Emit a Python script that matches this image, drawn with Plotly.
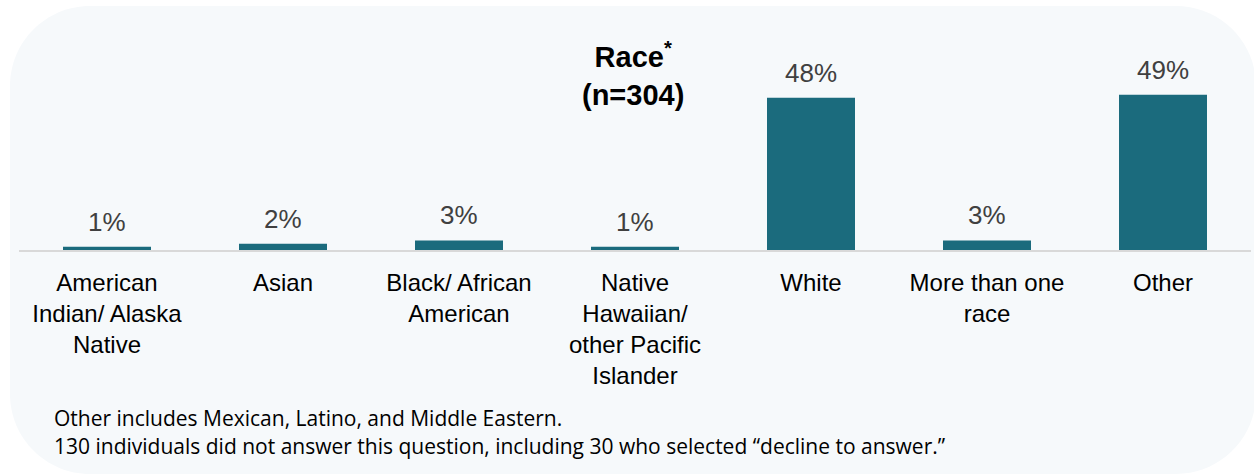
import plotly.graph_objects as go

categories = ["American<br>Indian/ Alaska<br>Native", "Asian", "Black/ African<br>American",
              "Native<br>Hawaiian/<br>other Pacific<br>Islander", "White", "More than one<br>race", "Other"]
values = [1, 2, 3, 1, 48, 3, 49]
value_labels = [f"{v}%" for v in values]
title_text = "<b>Race<sup>*</sup><br>(n=304)</b>"
footnotes = ["Other includes Mexican, Latino, and Middle Eastern.",
             "130 individuals did not answer this question, including 30 who selected \u201cdecline to answer.\u201d"]

W, H = 1254, 475
ML, MR, MT, MB = 19, 3, 40, 225
PW, PH = W - ML - MR, H - MT - MB
PX_PER = 3.17
YMAX = PH / PX_PER

def px2paper(x, y):
    return ((x - ML) / PW, (H - MB - y) / PH)

# rounded background rectangle (pixel coords -> paper)
x0, y0, x1, y1, r = 10, 6, 1256, 474, 80
k = 0.5523 * r
def P(x, y):
    a, b = px2paper(x, y)
    return f"{a:.5f},{b:.5f}"
path = (f"M {P(x0 + r, y0)} L {P(x1 - r, y0)} "
        f"C {P(x1 - r + k, y0)} {P(x1, y0 + r - k)} {P(x1, y0 + r)} "
        f"L {P(x1, y1 - r)} "
        f"C {P(x1, y1 - r + k)} {P(x1 - r + k, y1)} {P(x1 - r, y1)} "
        f"L {P(x0 + r, y1)} "
        f"C {P(x0 + r - k, y1)} {P(x0, y1 - r + k)} {P(x0, y1 - r)} "
        f"L {P(x0, y0 + r)} "
        f"C {P(x0, y0 + r - k)} {P(x0 + r - k, y0)} {P(x0 + r, y0)} Z")

fig = go.Figure()
fig.add_trace(go.Bar(x=categories, y=values, marker=dict(color="#1B6B7D", line=dict(width=0)),
                     width=0.5, hoverinfo="skip"))

FONT = "Liberation Sans"
for c, v, t in zip(categories, values, value_labels):
    fig.add_annotation(x=c, y=v, xref="x", yref="y", text=t, showarrow=False,
                       yanchor="bottom", yshift=8, font=dict(family=FONT, size=26, color="#404040"))

tx, ty = px2paper(633, 74)
fig.add_annotation(x=tx, y=ty, xref="paper", yref="paper", text=title_text, showarrow=False,
                   xanchor="center", yanchor="middle", font=dict(family=FONT, size=29, color="#000000"))

for fn, py in zip(footnotes, [418, 446]):
    fx, fy = px2paper(52, py)
    fig.add_annotation(x=fx, y=fy, xref="paper", yref="paper", text=fn, showarrow=False,
                       xanchor="left", yanchor="middle",
                       font=dict(family="Open Sans", size=21, color="#000000"))

fig.add_shape(type="path", path=path, xref="paper", yref="paper", layer="below",
              fillcolor="#F6F9FB", line=dict(width=0))

fig.update_layout(
    width=W, height=H, margin=dict(l=ML, r=MR, t=MT, b=MB),
    paper_bgcolor="white", plot_bgcolor="rgba(0,0,0,0)", showlegend=False,
    bargap=0.5,
    xaxis=dict(showline=True, linecolor="#D9D9D9", linewidth=2, showgrid=False, ticks="",
               ticklabelstandoff=10,
               tickfont=dict(family=FONT, size=24, color="#000000"), fixedrange=True),
    yaxis=dict(range=[0, YMAX], visible=False, showgrid=False, fixedrange=True),
)

fig.write_html("out.html", config={"displayModeBar": False})
